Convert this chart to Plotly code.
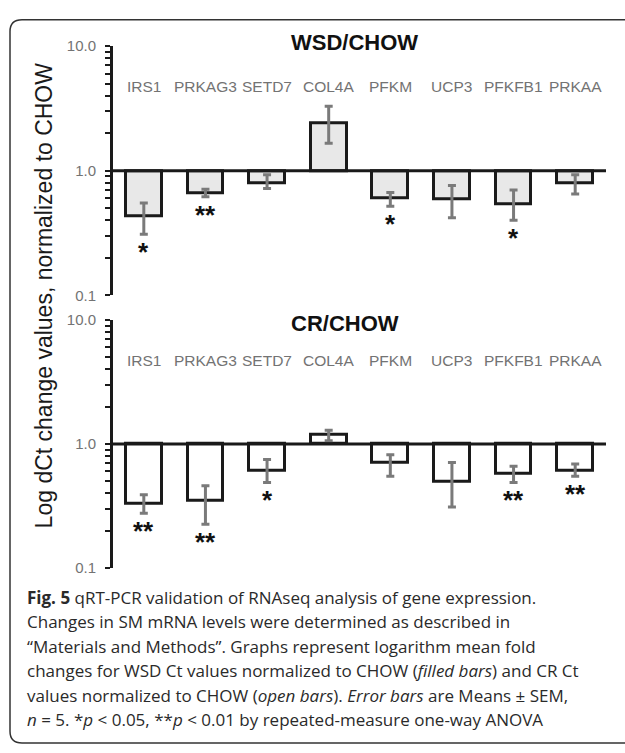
import numpy as np
import plotly.graph_objects as go

# ---------------- data ----------------
genes = ["IRS1", "PRKAG3", "SETD7", "COL4A", "PFKM", "UCP3", "PFKFB1", "PRKAA"]

wsd_mean = [0.43, 0.66, 0.80, 2.43, 0.60, 0.59, 0.54, 0.79]
wsd_hi = [0.55, 0.71, 0.93, 3.30, 0.67, 0.76, 0.70, 0.93]
wsd_lo = [0.31, 0.62, 0.72, 1.66, 0.52, 0.42, 0.40, 0.65]
wsd_sig = ["*", "**", "", "", "*", "", "*", ""]

cr_mean = [0.33, 0.35, 0.61, 1.18, 0.70, 0.50, 0.58, 0.61]
cr_hi = [0.39, 0.46, 0.75, 1.29, 0.82, 0.71, 0.66, 0.69]
cr_lo = [0.276, 0.226, 0.49, 1.06, 0.55, 0.31, 0.49, 0.55]
cr_sig = ["**", "**", "*", "", "", "", "**", "**"]

panel_titles = ["WSD/CHOW", "CR/CHOW"]
decade_labels = {0.1: "0.1", 1: "1.0", 10: "10.0"}
y_title = "Log dCt change values, normalized to CHOW"

caption_lines = [
    "<b>Fig. 5</b> qRT-PCR validation of RNAseq analysis of gene expression.",
    "Changes in SM mRNA levels were determined as described in",
    "\u201cMaterials and Methods\u201d. Graphs represent logarithm mean fold",
    "changes for WSD Ct values normalized to CHOW (<i>filled bars</i>) and CR Ct",
    "values normalized to CHOW (<i>open bars</i>). <i>Error bars</i> are Means \u00b1 SEM,",
    "<i>n</i> = 5. *<i>p</i> &lt; 0.05, **<i>p</i> &lt; 0.01 by repeated-measure one-way ANOVA",
]

# ---------------- styling ----------------
W, H = 625, 753
ARIAL = "Arial, Liberation Sans, sans-serif"
CAPF = "Open Sans, Noto Sans, sans-serif"
GRAY = "#737373"
ERR = "#7a7a7a"

idx = list(range(len(genes)))
tickvals = [m * 10.0 ** e for e in (-1, 0) for m in range(1, 10)] + [10.0]
ticktext = [decade_labels.get(round(v, 6), "") for v in tickvals]

def py(px):  # pixel row -> paper fraction
    return 1 - px / H

x_dom = [113 / W, 606 / W]
panels = [
    dict(mean=wsd_mean, hi=wsd_hi, lo=wsd_lo, sig=wsd_sig, fill="#e8e8e8",
         ydom=[py(293), py(38)], title_y=py(34)),
    dict(mean=cr_mean, hi=cr_hi, lo=cr_lo, sig=cr_sig, fill="#ffffff",
         ydom=[py(572), py(318)], title_y=py(322)),
]

fig = go.Figure()
annotations = []
for k, p in enumerate(panels):
    xa = "x" if k == 0 else "x2"
    ya = "y" if k == 0 else "y2"
    # bars from baseline 1.0
    fig.add_trace(go.Bar(
        x=idx, y=[m - 1 for m in p["mean"]], base=1, width=0.58,
        marker=dict(color=p["fill"], line=dict(color="#1a1a1a", width=3)),
        xaxis=xa, yaxis=ya, hoverinfo="skip"))
    # error bars
    fig.add_trace(go.Scatter(
        x=idx, y=p["mean"], mode="markers",
        marker=dict(size=1, color="rgba(0,0,0,0)"),
        error_y=dict(type="data", symmetric=False,
                     array=[h - m for h, m in zip(p["hi"], p["mean"])],
                     arrayminus=[m - l for m, l in zip(p["mean"], p["lo"])],
                     color=ERR, thickness=3, width=4),
        xaxis=xa, yaxis=ya, hoverinfo="skip"))
    # baseline at 1.0
    fig.add_trace(go.Scatter(
        x=[-0.5, len(genes) - 0.5], y=[1, 1], mode="lines",
        line=dict(color="#1a1a1a", width=3), xaxis=xa, yaxis=ya,
        hoverinfo="skip"))
    # significance stars
    for i, s in enumerate(p["sig"]):
        if s:
            annotations.append(dict(
                x=i, y=np.log10(p["lo"][i]), xref=xa, yref=ya,
                text="<b>" + s + "</b>", showarrow=False, yanchor="top",
                yshift=-1, font=dict(family=ARIAL, size=26, color="#111")))
    # gene labels
    for i, g in enumerate(genes):
        annotations.append(dict(
            x=i, y=0.837, xref=xa, yref=ya + " domain", text=g,
            showarrow=False, yanchor="middle",
            font=dict(family=ARIAL, size=15.5, color=GRAY)))
    # panel title
    annotations.append(dict(
        x=289 / W, y=p["title_y"], xref="paper", yref="paper",
        text="<b>" + panel_titles[k] + "</b>", showarrow=False,
        xanchor="left", yanchor="middle",
        font=dict(family=ARIAL, size=22, color="#111")))

    axis_common = dict(domain=p["ydom"], type="log", range=[-1, 1],
                       tickvals=tickvals, ticktext=ticktext,
                       ticks="outside", ticklen=5, tickwidth=2,
                       tickcolor="#1a1a1a", showline=True, linewidth=3,
                       linecolor="#1a1a1a", showgrid=False, zeroline=False,
                       ticklabelstandoff=6,
                       tickfont=dict(family=ARIAL, size=15, color=GRAY))
    xaxis_common = dict(domain=x_dom, range=[-0.5, len(genes) - 0.5],
                        showline=False, showticklabels=False, ticks="",
                        showgrid=False, zeroline=False)
    if k == 0:
        fig.update_layout(yaxis=dict(anchor="x", **axis_common),
                          xaxis=dict(anchor="y", **xaxis_common))
    else:
        fig.update_layout(yaxis2=dict(anchor="x2", **axis_common),
                          xaxis2=dict(anchor="y2", **xaxis_common))

# y axis title
annotations.append(dict(
    x=44 / W, y=py(293), xref="paper", yref="paper", text=y_title,
    textangle=-90, showarrow=False, xanchor="center", yanchor="middle",
    font=dict(family=ARIAL, size=23, color="#1a1a1a")))

# caption
for j, line in enumerate(caption_lines):
    annotations.append(dict(
        x=25 / W, y=py(602 + 25 * j), xref="paper", yref="paper", text=line,
        showarrow=False, xanchor="left", yanchor="middle",
        font=dict(family=CAPF, size=17, color="#2a2a2a")))

# frame (rounded box, right side runs off the page)
x0, yt, yb = 10 / W, py(11), py(751)
rx, ry = 12 / W, 12 / H
frame = (f"M 1,{yt} L {x0 + rx},{yt} Q {x0},{yt} {x0},{yt - ry} "
         f"L {x0},{yb + ry} Q {x0},{yb} {x0 + rx},{yb} L 1,{yb}")

fig.update_layout(
    width=W, height=H, margin=dict(l=0, r=0, t=0, b=0),
    paper_bgcolor="white", plot_bgcolor="white", showlegend=False,
    bargap=0, annotations=annotations,
    shapes=[dict(type="path", path=frame, xref="paper", yref="paper",
                 line=dict(color="#333", width=1.5), layer="above")],
)

fig.write_html(
    "out.html",
    config={"displayModeBar": False},
    post_script="document.body.style.margin='0';"
                "document.body.style.overflow='hidden';",
)
